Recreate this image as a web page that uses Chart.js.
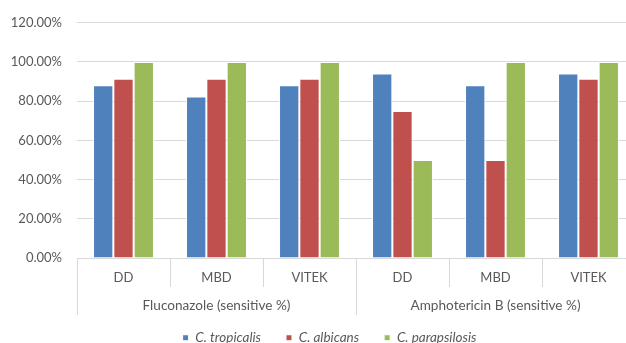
<!DOCTYPE html>
<html>
<head>
<meta charset="utf-8">
<script src="https://cdn.jsdelivr.net/npm/chart.js@4/dist/chart.umd.min.js"></script>
<style>
html,body{margin:0;padding:0;background:#fff;overflow:hidden;width:626px;height:343px;}
canvas{display:block;}
</style>
</head>
<body>
<canvas id="c" width="636" height="343"></canvas>
<script>
const methods = ['DD', 'MBD', 'VITEK', 'DD', 'MBD', 'VITEK'];
const drugGroups = ['Fluconazole (sensitive %)', 'Amphotericin B (sensitive %)'];
const seriesNames = ['C. tropicalis', 'C. albicans', 'C. parapsilosis'];
const tropicalis = [88.2, 82.4, 88.2, 94.1, 88.2, 94.1];
const albicans = [91.5, 91.5, 91.5, 75.0, 50.0, 91.5];
const parapsilosis = [100, 100, 100, 50, 100, 100];
const yTicks = [0, 20, 40, 60, 80, 100, 120];

const FONT = 'Lato';
const TXT = '#595959';
const GRID = '#d9d9d9';

Chart.defaults.font.family = FONT;
Chart.defaults.color = TXT;

// nudge the legend box to where the reference places it
const legendNudge = {
  id: 'legendNudge',
  afterLayout(chart) {
    const l = chart.legend;
    if (!l) return;
    l.left += 8; l.right += 8;
    l.top -= 9; l.bottom = chart.height;
  }
};

new Chart(document.getElementById('c'), {
  type: 'bar',
  data: {
    labels: methods,
    datasets: [
      {label: seriesNames[0], data: tropicalis, backgroundColor: '#4F81BD'},
      {label: seriesNames[1], data: albicans, backgroundColor: '#C0504D'},
      {label: seriesNames[2], data: parapsilosis, backgroundColor: '#9BBB59'}
    ].map(d => Object.assign(d, {borderColor: '#ffffff', borderWidth: 1, categoryPercentage: 0.655, barPercentage: 1.0}))
  },
  plugins: [legendNudge],
  options: {
    responsive: false,
    animation: false,
    layout: {padding: {top: 18, left: 8, right: 1, bottom: 0}},
    plugins: {
      tooltip: {enabled: false},
      legend: {
        position: 'bottom',
        maxHeight: 28,
        labels: {
          boxWidth: 6, boxHeight: 6, padding: 25, color: TXT,
          font: {family: FONT, size: 13.5, style: 'italic'}
        }
      }
    },
    scales: {
      y: {
        min: 0, max: 120,
        afterBuildTicks: s => { s.ticks = yTicks.map(v => ({value: v})); },
        afterFit: s => { s.width = 69; },
        border: {display: false},
        grid: {color: GRID, drawTicks: false, lineWidth: 1},
        ticks: {padding: 15, font: {family: FONT, size: 13}, color: TXT,
          callback: v => v.toFixed(2) + '%'}
      },
      x: {
        offset: true,
        afterFit: s => { s.height = 29; },
        border: {display: true, color: GRID},
        grid: {offset: true, drawOnChartArea: false, tickLength: 29, color: GRID},
        ticks: {padding: -17, font: {family: FONT, size: 13}, color: TXT}
      },
      x2: {
        type: 'category',
        position: 'bottom',
        labels: drugGroups,
        offset: true,
        afterFit: s => { s.height = 28; },
        border: {display: false},
        grid: {offset: true, drawOnChartArea: false, tickLength: 28, color: GRID},
        ticks: {padding: -17.5, font: {family: FONT, size: 13.6}, color: TXT}
      }
    }
  }
});
</script>
</body>
</html>
